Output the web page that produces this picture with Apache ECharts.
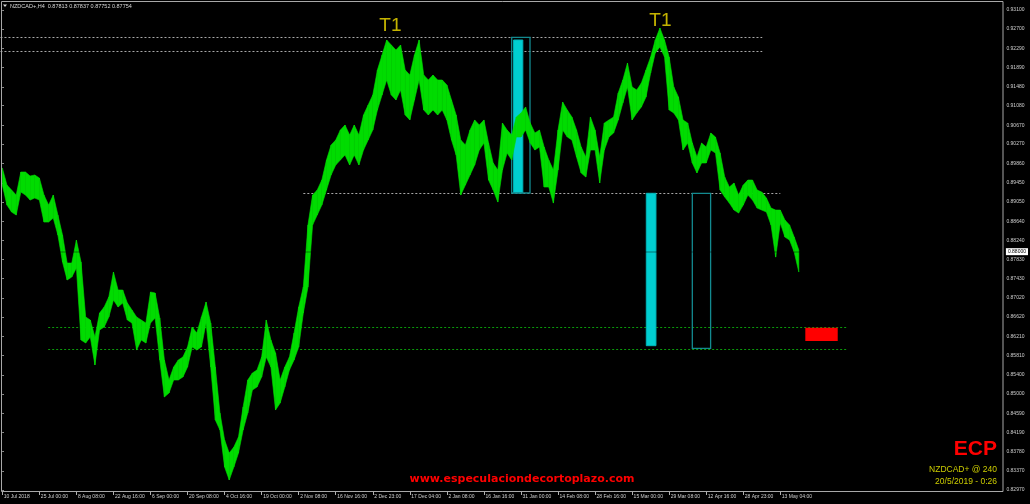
<!DOCTYPE html>
<html><head><meta charset="utf-8">
<script src="https://cdn.jsdelivr.net/npm/echarts@6/dist/echarts.min.js"></script>
<style>html,body{margin:0;padding:0;background:#000;}#c{width:1030px;height:504px;}</style>
</head><body><div id="c"></div>
<script>
// ---- data ----
const tickLabels = ["10 Jul 2018","25 Jul 00:00","8 Aug 08:00","22 Aug 16:00","6 Sep 00:00","20 Sep 08:00","4 Oct 16:00","19 Oct 00:00","2 Nov 08:00","16 Nov 16:00","2 Dec 23:00","17 Dec 04:00","2 Jan 08:00","16 Jan 16:00","31 Jan 00:00","14 Feb 08:00","28 Feb 16:00","15 Mar 00:00","29 Mar 08:00","12 Apr 16:00","28 Apr 23:00","13 May 04:00"];
const priceLabels = [0.82970,0.83370,0.83780,0.84190,0.84590,0.85000,0.85400,0.85810,0.86210,0.86620,0.87020,0.87430,0.87830,0.88240,0.88640,0.89050,0.89450,0.89860,0.90270,0.90670,0.91080,0.91480,0.91890,0.92290,0.92700,0.93100];
const highs = [0.89766,0.89406,0.89301,0.89195,0.89681,0.89681,0.89597,0.89618,0.89555,0.89195,
0.88984,0.89195,0.88773,0.88351,0.87760,0.87760,0.88245,0.87781,0.86621,0.86558,
0.86199,0.86705,0.86832,0.87043,0.87570,0.87191,0.87191,0.86917,0.86769,0.86621,
0.86558,0.86494,0.87149,0.87128,0.86600,0.85714,0.85291,0.85566,0.85714,0.85777,
0.85988,0.86410,0.86283,0.86621,0.86938,0.86494,0.85566,0.84595,0.84025,0.83751,
0.83877,0.84089,0.84722,0.85291,0.85439,0.85502,0.85777,0.86558,0.86136,0.85861,
0.85291,0.85566,0.85777,0.86283,0.86832,0.87254,0.88562,0.89195,0.89301,0.89512,
0.89934,0.90251,0.90356,0.90567,0.90673,0.90462,0.90673,0.90462,0.90884,0.91095,
0.91306,0.91834,0.92150,0.92467,0.92361,0.92256,0.92361,0.91834,0.91728,0.92150,
0.92467,0.91728,0.91623,0.91728,0.91623,0.91623,0.91517,0.91201,0.90884,0.90356,
0.90251,0.90567,0.90779,0.90673,0.90779,0.90293,0.89871,0.89723,0.90715,0.90567,
0.90462,0.90842,0.90926,0.91053,0.90715,0.90504,0.90567,0.90209,0.89934,0.89723,
0.90567,0.91158,0.90990,0.90842,0.90567,0.90209,0.89998,0.90842,0.90567,0.89998,
0.90715,0.90779,0.90842,0.91348,0.91623,0.91981,0.91475,0.91412,0.91559,0.91834,
0.92108,0.92467,0.92720,0.92467,0.92108,0.91475,0.91264,0.90779,0.90715,0.90293,
0.89998,0.90293,0.90209,0.90504,0.90420,0.90082,0.89576,0.89364,0.89449,0.89195,
0.89406,0.89512,0.89512,0.89301,0.89258,0.89132,0.88920,0.88878,0.88878,0.88667,
0.88562,0.88308,0.88034];
const lows = [0.89406,0.88984,0.88836,0.88773,0.89258,0.89195,0.89089,0.89132,0.89089,0.88625,
0.88625,0.88709,0.88351,0.87781,0.87402,0.87465,0.87655,0.86136,0.86072,0.86199,
0.85608,0.86347,0.86410,0.86621,0.86980,0.86832,0.86917,0.86558,0.86494,0.85924,
0.86136,0.86072,0.86494,0.86600,0.85714,0.84933,0.85017,0.85291,0.85291,0.85355,
0.85566,0.85988,0.85924,0.85988,0.86494,0.85566,0.84447,0.84236,0.83455,0.83181,
0.83455,0.83751,0.84236,0.84595,0.85080,0.85144,0.85355,0.85777,0.85566,0.84658,
0.84806,0.85144,0.85502,0.85714,0.85988,0.86705,0.87254,0.88562,0.88773,0.88984,
0.89301,0.89618,0.89829,0.89934,0.90040,0.89829,0.90040,0.89829,0.90145,0.90356,
0.90567,0.90990,0.91306,0.91623,0.91306,0.91201,0.91412,0.90884,0.90779,0.91201,
0.91623,0.90990,0.90884,0.90990,0.90884,0.90990,0.90779,0.90356,0.90040,0.89195,
0.89406,0.89618,0.89829,0.90145,0.90293,0.89512,0.89301,0.89047,0.89723,0.90082,
0.89934,0.90420,0.90420,0.90567,0.90293,0.90145,0.90209,0.89364,0.89364,0.89026,
0.89723,0.90567,0.90420,0.90356,0.89998,0.89660,0.89576,0.90145,0.90145,0.89449,
0.90145,0.90420,0.90504,0.90779,0.91137,0.91475,0.90779,0.90926,0.91053,0.91264,
0.91770,0.92193,0.92319,0.92108,0.90990,0.90926,0.90779,0.90145,0.90293,0.89871,
0.89660,0.89871,0.89871,0.90145,0.90082,0.89301,0.89153,0.89026,0.88878,0.88815,
0.88984,0.89195,0.89089,0.88920,0.88878,0.88836,0.88562,0.87886,0.88604,0.88308,
0.88245,0.87992,0.87570];
const lastPrice = 0.87754;
// annotation objects, in [bar index, price] units
const grayLevels = [[-0.4,164.1,0.92524],[-0.4,164.1,0.92241],[65.0,168.0,0.89238]];
const greenLevels = [[9.9,182.5,0.86404],[9.9,182.5,0.85952]];
const filledZones = [[110.4,112.4,0.92467,0.89238],[139.06,141.15,0.89232,0.86016]];
const outlinedZones = [[110.0,113.95,0.92524,0.89238],[149.0,152.95,0.89232,0.85960]];
const alertZones = [[173.4,180.4,0.86395,0.86115]];
const peakMarks = [["T1",83.8,0.92773],["T1",142.1,0.92868]];
const CATEGORY_COUNT = 217, LABEL_STEP = 8;

const categories = Array.from({length: CATEGORY_COUNT}, (_, i) =>
  (i % LABEL_STEP === 0 && i / LABEL_STEP < tickLabels.length) ? tickLabels[i / LABEL_STEP] : '');
const candles = lows.map((l, i) => [l, highs[i], l, highs[i]]);
// band segments joining consecutive bars: [i, low_i, high_i, low_i+1, high_i+1]
const bandSegs = lows.slice(0, -1).map((l, i) => [i, l, highs[i], lows[i + 1], highs[i + 1]]);

const chart = echarts.init(document.getElementById('c'), null, {renderer: 'canvas'});
const FONT = 'Liberation Sans';

function rectRender(fill, stroke, lw) {
  return function (params, api) {
    const a = api.coord([api.value(0), api.value(2)]);
    const b = api.coord([api.value(1), api.value(3)]);
    return {type: 'rect', shape: {x: a[0], y: a[1], width: b[0] - a[0], height: b[1] - a[1]},
      style: {fill: fill, stroke: stroke, lineWidth: lw}};
  };
}
function lineRender(stroke, dash) {
  return function (params, api) {
    const a = api.coord([api.value(0), api.value(2)]);
    const b = api.coord([api.value(1), api.value(2)]);
    const y = Math.round(a[1]) + 0.5;
    return {type: 'line', shape: {x1: a[0], y1: y, x2: b[0], y2: y},
      style: {stroke: stroke, lineWidth: 1, lineDash: dash}};
  };
}
function bandRender(params, api) {
  const i = api.value(0);
  const p1 = api.coord([i, api.value(2)]), p2 = api.coord([i + 1, api.value(4)]);
  const p3 = api.coord([i + 1, api.value(3)]), p4 = api.coord([i, api.value(1)]);
  return {type: 'polygon', shape: {points: [p1, p2, p3, p4]},
    style: {fill: '#00dc00', stroke: '#00dc00', lineWidth: 0.6}};
}
const showTick = (idx, val) => val !== '';

chart.setOption({
  backgroundColor: '#000000',
  animation: false,
  grid: {left: 0, top: 1, width: 1004.9, height: 491, containLabel: false},
  xAxis: [{
    type: 'category', data: categories, boundaryGap: true,
    axisLine: {show: false},
    axisTick: {show: true, alignWithLabel: true, interval: showTick, length: 3, lineStyle: {color: '#b0b0b0'}},
    axisLabel: {interval: showTick, align: 'left', padding: [0, 0, 0, 1.5], margin: 2.5,
      color: '#d0d0d0', fontSize: 5, fontFamily: FONT},
    splitLine: {show: false}
  }, {
    type: 'value', min: -0.5, max: CATEGORY_COUNT - 0.5, show: false
  }],
  yAxis: {
    type: 'value', position: 'right', min: 0.82928, max: 0.93290, scale: true,
    axisLine: {show: false}, splitLine: {show: false},
    axisTick: {show: true, customValues: priceLabels, length: 1.5, lineStyle: {color: '#b0b0b0'}},
    axisLabel: {customValues: priceLabels, formatter: v => v.toFixed(5), margin: 1.5,
      color: '#d0d0d0', fontSize: 5, fontFamily: FONT}
  },
  graphic: [
    {type: 'rect', shape: {x: 1.5, y: 1.5, width: 1001.5, height: 490}, style: {fill: 'none', stroke: '#a8a8a8', lineWidth: 1}, z: 100, silent: true},
    {type: 'polygon', shape: {points: [[3, 4.5], [7, 4.5], [5, 7]]}, style: {fill: '#d8d8d8'}, z: 100},
    {type: 'text', x: 10, y: 6, style: {text: 'NZDCAD+,H4  0.87813 0.87837 0.87752 0.87754', fill: '#d8d8d8', font: '5.5px "Liberation Sans"', verticalAlign: 'middle'}, z: 100},
    {type: 'text', x: 522, y: 479, style: {text: 'www.especulaciondecortoplazo.com', fill: '#ff0000', font: 'bold 11px "DejaVu Sans"', align: 'center', verticalAlign: 'middle'}, z: 100},
    {type: 'text', x: 997, y: 449.5, style: {text: 'ECP', fill: '#ff0000', font: 'bold 21px "Liberation Sans"', align: 'right', verticalAlign: 'middle'}, z: 100},
    {type: 'text', x: 997, y: 470, style: {text: 'NZDCAD+ @ 240', fill: '#cccc00', font: '8.5px "Liberation Sans"', align: 'right', verticalAlign: 'middle'}, z: 100},
    {type: 'text', x: 997, y: 482, style: {text: '20/5/2019 - 0:26', fill: '#cccc00', font: '8.5px "Liberation Sans"', align: 'right', verticalAlign: 'middle'}, z: 100}
  ],
  series: [
    {type: 'custom', xAxisIndex: 1, yAxisIndex: 0, z: 1, silent: true, clip: false,
      renderItem: lineRender('#a8a8a8', [2, 2]), data: grayLevels, encode: {x: [0, 1], y: 2}},
    {type: 'custom', xAxisIndex: 1, yAxisIndex: 0, z: 1, silent: true, clip: false,
      renderItem: lineRender('#0a9a0a', [2, 2]), data: greenLevels, encode: {x: [0, 1], y: 2}},
    {type: 'custom', xAxisIndex: 1, yAxisIndex: 0, z: 1, silent: true,
      renderItem: rectRender('#00ced1', '#00b4b8', 1), data: filledZones, encode: {x: [0, 1], y: [2, 3]}},
    {type: 'custom', xAxisIndex: 1, yAxisIndex: 0, z: 1, silent: true,
      renderItem: rectRender('none', '#138a90', 1.3), data: outlinedZones, encode: {x: [0, 1], y: [2, 3]}},
    {type: 'custom', xAxisIndex: 1, yAxisIndex: 0, z: 1, silent: true,
      renderItem: rectRender('#ff0000', 'none', 0), data: alertZones, encode: {x: [0, 1], y: [2, 3]}},
    {type: 'custom', xAxisIndex: 1, yAxisIndex: 0, z: 2, silent: true,
      renderItem: bandRender, data: bandSegs, encode: {x: 0, y: [1, 2, 3, 4]}},
    {type: 'candlestick', xAxisIndex: 0, yAxisIndex: 0, z: 3, data: candles, barWidth: 1.2,
      itemStyle: {color: '#00ff00', color0: '#00ff00', borderColor: '#00ff00', borderColor0: '#00ff00', borderWidth: 0},
      markLine: {silent: true, symbol: 'none', animation: false,
        data: [{yAxis: lastPrice}],
        lineStyle: {color: 'rgba(0,0,0,0.3)', width: 1.5, type: 'solid'},
        label: {show: true, position: 'end', distance: 1, formatter: p => p.value.toFixed(5),
          backgroundColor: '#ffffff', color: '#000000', fontSize: 5, fontFamily: FONT, padding: [1, 2], lineHeight: 5}}},
    {type: 'scatter', xAxisIndex: 1, yAxisIndex: 0, z: 5, symbolSize: 1, silent: true,
      itemStyle: {color: 'transparent'},
      data: peakMarks.map(m => ({name: m[0], value: [m[1], m[2]]})),
      label: {show: true, position: 'inside', formatter: p => p.name, color: '#f5e000', fontSize: 19, fontFamily: FONT}}
  ]
});
</script></body></html>
